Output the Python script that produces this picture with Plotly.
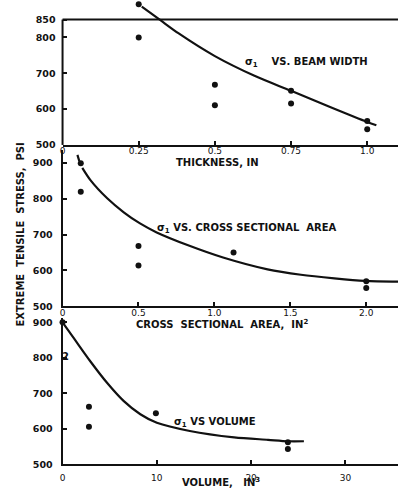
import plotly.graph_objects as go

# ---- data ----
# Panel 1: sigma_1 vs beam width (thickness, in)
thick_pts_x = [0.25, 0.25, 0.5, 0.5, 0.75, 0.75, 1.0, 1.0]
thick_pts_y = [893, 800, 668, 611, 651, 616, 567, 544]
thick_curve_x = [0.26, 0.32, 0.38, 0.5, 0.63, 0.75, 0.88, 1.0, 1.03]
thick_curve_y = [886, 849, 812, 748, 693, 651, 605, 564, 555]

# Panel 2: sigma_1 vs cross sectional area (in^2)
area_pts_x = [0.12, 0.12, 0.5, 0.5, 1.126, 2.0, 2.0]
area_pts_y = [899, 819, 668, 614, 650, 570, 551]
area_dash_x = [0.098, 0.11]
area_dash_y = [922, 905]
area_curve_x = [0.13, 0.185, 0.294, 0.403, 0.51, 0.62, 0.84, 1.057, 1.35, 1.57, 1.79, 1.99, 2.21]
area_curve_y = [886, 851, 801, 762, 731, 706, 668, 636, 603, 588, 578, 571, 569]

# Panel 3: sigma_1 vs volume (in^3)
vol_pts_x = [0.0, 2.8, 2.8, 9.9, 23.9, 23.9]
vol_pts_y = [900, 662, 606, 644, 562, 543]
vol_curve_x = [0.0, 1.23, 2.98, 4.74, 6.5, 8.25, 10.0, 13.5, 18.2, 21.8, 23.9, 25.6]
vol_curve_y = [900, 854, 789, 729, 678, 641, 617, 594, 576, 569, 565, 565]

thick_ticks = [0, 0.25, 0.5, 0.75, 1.0]
thick_ticktext = ["0", "0.25", "0.5", "0.75", "1.0"]
area_ticks = [0, 0.5, 1.0, 1.5, 2.0]
area_ticktext = ["0", "0.5", "1.0", "1.5", "2.0"]
vol_ticks = [0, 10, 20, 30]
stress_ticks_1 = [500, 600, 700, 800, 850]
stress_ticks = [500, 600, 700, 800, 900]

FONT = "DejaVu Sans"
INK = "#111111"

fig = go.Figure()

def pts(x, y, xa, ya):
    fig.add_trace(go.Scatter(x=x, y=y, mode="markers", xaxis=xa, yaxis=ya,
                             marker=dict(color=INK, size=6), cliponaxis=False,
                             showlegend=False, hoverinfo="skip"))

def curve(x, y, xa, ya):
    fig.add_trace(go.Scatter(x=x, y=y, mode="lines", xaxis=xa, yaxis=ya,
                             line=dict(color=INK, width=2.2, shape="spline", smoothing=0.8),
                             showlegend=False, hoverinfo="skip"))

curve(thick_curve_x, thick_curve_y, "x", "y")
pts(thick_pts_x, thick_pts_y, "x", "y")
curve(area_dash_x, area_dash_y, "x2", "y2")
curve(area_curve_x, area_curve_y, "x2", "y2")
pts(area_pts_x, area_pts_y, "x2", "y2")
curve(vol_curve_x, vol_curve_y, "x3", "y3")
pts(vol_pts_x, vol_pts_y, "x3", "y3")

xdom = [60 / 398, 1.0]
tickfont_x = dict(family=FONT, size=9, color=INK)
tickfont_y = dict(family=FONT, size=9.5, color=INK, weight="bold")

def xaxis(rng, ticks, text, anchor, standoff):
    return dict(domain=xdom, range=rng, tickvals=ticks, ticktext=text, anchor=anchor,
                showline=True, linecolor=INK, linewidth=2, ticks="inside", ticklen=4,
                tickcolor=INK, tickwidth=1.5, showgrid=False, zeroline=False,
                tickfont=tickfont_x, ticklabelstandoff=standoff, fixedrange=True)

def yaxis(dom, rng, ticks, anchor, showline=True):
    return dict(domain=dom, range=rng, tickvals=ticks, anchor=anchor,
                showline=showline, linecolor=INK, linewidth=2, ticks="inside", ticklen=4,
                tickcolor=INK, tickwidth=1.5, showgrid=False, zeroline=False,
                tickfont=tickfont_y, ticklabelstandoff=6, fixedrange=True)

y1_dom, y1_rng = [1 - 145 / 492, 1.0], [500, 899]
x1_rng = [0, 1.101]

fig.update_layout(
    width=398, height=492,
    margin=dict(l=0, r=0, t=0, b=0),
    paper_bgcolor="white", plot_bgcolor="white",
    xaxis=xaxis(x1_rng, thick_ticks, thick_ticktext, "y", -4),
    yaxis=yaxis(y1_dom, y1_rng, stress_ticks_1, "x", showline=False),
    xaxis2=xaxis([0, 2.209], area_ticks, area_ticktext, "y2", -3),
    yaxis2=yaxis([1 - 308.7 / 492, 1 - 150 / 492], [500, 936], stress_ticks, "x2"),
    xaxis3=xaxis([0, 35.58], vol_ticks, [str(v) for v in vol_ticks], "y3", 4),
    yaxis3=yaxis([1 - 469 / 492, 1 - 321 / 492], [500, 911], stress_ticks, "x3"),
)

# Panel 1 frame: top border at 850 and left edge up to it (paper coords, no clipping)
def y1_paper(v):
    return y1_dom[0] + (v - y1_rng[0]) / (y1_rng[1] - y1_rng[0]) * (y1_dom[1] - y1_dom[0])

top = y1_paper(850)
fig.add_shape(type="line", xref="paper", yref="paper", x0=xdom[0], x1=1.0, y0=top, y1=top,
              line=dict(color=INK, width=2))
fig.add_shape(type="line", xref="paper", yref="paper", x0=xdom[0], x1=xdom[0],
              y0=y1_dom[0], y1=top, line=dict(color=INK, width=2))

lab = dict(family=FONT, size=10, color=INK, weight="bold")

def note(text, x, y, xref="paper", yref="paper", **kw):
    fig.add_annotation(xref=xref, yref=yref, x=x, y=y, text=text, showarrow=False,
                       font=lab, xanchor="center", yanchor="middle", **kw)

note("σ<sub>1</sub>    VS. BEAM WIDTH", 0.80, 731, "x", "y")
note("σ<sub>1</sub> VS. CROSS SECTIONAL  AREA", 1.21, 716, "x2", "y2")
note("σ<sub>1</sub> VS VOLUME", 16.2, 619, "x3", "y3")
note("2", 0.35, 805, "x3", "y3")

# axis titles
note("THICKNESS, IN", 216 / 398, 1 - 163 / 492)
note("CROSS  SECTIONAL  AREA,  IN<sup>2</sup>", 221 / 398, 1 - 327 / 492)
note("VOLUME,   IN<sup>3</sup>", 220 / 398, 1 - 487 / 492)
note("EXTREME  TENSILE  STRESS,  PSI", 18 / 398, 1 - 236 / 492, textangle=-90)

fig.write_html("out.html", config={"displayModeBar": False},
               post_script="document.body.style.margin='0';document.body.style.overflow='hidden';")
